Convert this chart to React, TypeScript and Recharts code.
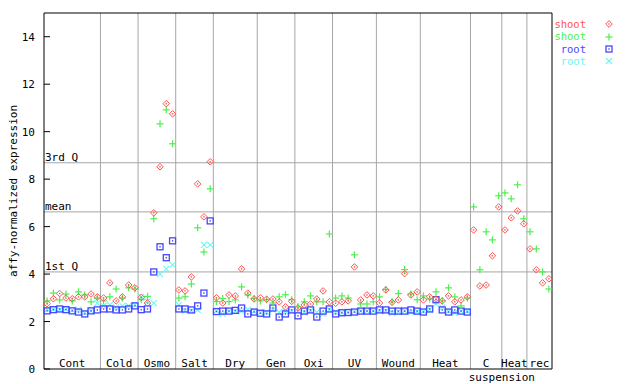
import { ScatterChart, Scatter, XAxis, YAxis, ReferenceLine } from "recharts";

const sectionNames = ["Cont", "Cold", "Osmo", "Salt", "Dry", "Gen", "Oxi", "UV", "Wound", "Heat", "C", "Heat", "rec"];
const sectionSizes = [9, 6, 6, 6, 7, 6, 6, 7, 7, 8, 5, 4, 4];
const subLabel = { at: 73, text: "suspension" };

// shoot, rep 1 (red diamonds)
const shootA = [
  2.75, 2.96, 3.18, 2.99, 2.96, 3.04, 3.04, 3.16, 3.04,
  2.99, 3.63, 2.87, 3.04, 3.54, 3.42,
  3.02, 2.78, 6.58, 8.52, 11.18, 10.75,
  3.33, 3.29, 3.88, 7.8, 6.41, 8.73,
  3.0, 2.78, 3.12, 3.08, 4.22, 3.2, 2.95,
  3.0, 2.94, 2.95, 2.83, 2.62, 2.85,
  2.57, 2.7, 2.74, 2.95, 3.29, 2.83,
  2.77, 2.83, 2.87, 4.3, 2.91, 3.12, 3.08,
  2.78, 3.33, 2.81, 2.91, 4.02, 3.12, 3.25,
  2.91, 3.04, 2.95, 2.87, 3.08, 2.83, 2.91, 3.04,
  5.86, 3.5, 3.54, 4.77, 6.83,
  5.86, 6.37, 6.66, 6.12,
  5.06, 4.18, 3.63, 3.8,
];
// shoot, rep 2 (green pluses)
const shootB = [
  2.87, 3.2, 2.91, 3.16, 2.87, 3.25, 3.12, 2.83, 2.99,
  2.87, 3.04, 3.37, 2.99, 3.42, 3.37,
  2.92, 3.06, 6.33, 10.33, 10.92, 9.49,
  2.99, 3.04, 3.58, 5.95, 4.93, 7.59,
  2.84, 2.97, 2.84, 2.91, 3.46, 3.12, 2.97,
  2.87, 2.92, 2.78, 3.04, 3.13, 2.92,
  2.62, 2.83, 3.08, 2.83, 2.83, 5.69,
  2.99, 3.08, 2.99, 4.81, 2.74, 2.74, 2.83,
  3.04, 3.35, 2.83, 3.18, 4.19, 3.16, 2.92,
  3.08, 2.95, 3.25, 2.87, 3.42, 3.04, 2.66, 2.99,
  6.83, 4.18, 5.78, 5.44, 7.3,
  7.42, 7.17, 7.76, 6.33,
  5.78, 5.06, 4.09, 3.37,
];
// root, rep 1 (blue squares)
const rootA = [
  2.45, 2.5, 2.53, 2.5, 2.45, 2.4, 2.32, 2.45, 2.49,
  2.53, 2.53, 2.49, 2.49, 2.53, 2.66,
  2.5, 2.53, 4.09, 5.15, 4.69, 5.4,
  2.53, 2.53, 2.49, 2.66, 3.2, 6.24,
  2.42, 2.44, 2.44, 2.47, 2.57, 2.32, 2.4,
  2.35, 2.32, 2.57, 2.19, 2.32, 2.49,
  2.24, 2.44, 2.49, 2.19, 2.44, 2.53,
  2.32, 2.37, 2.38, 2.4, 2.44, 2.44, 2.44,
  2.49, 2.49, 2.44, 2.44, 2.44, 2.49, 2.44,
  2.4, 2.53, 2.92, 2.49, 2.4, 2.49, 2.44, 2.4,
];
// root, rep 2 (cyan crosses)
const rootB = [
  2.5, 2.52, 2.5, 2.52, 2.48, 2.5, 2.38, 2.45, 2.78,
  2.66, 2.7, 2.6, 2.66, 2.66, 2.7,
  3.04, 2.85, 2.78, 4.0, 4.22, 4.39,
  2.7, 2.45, 2.45, 2.49, 5.23, 5.23,
  2.45, 2.32, 2.44, 2.44, 2.44, 2.5, 2.44,
  2.38, 2.4, 2.5, 2.4, 2.42, 2.44,
  2.44, 2.4, 2.45, 2.4, 2.32, 2.5,
  2.4, 2.38, 2.4, 2.42, 2.44, 2.45, 2.45,
  2.45, 2.45, 2.37, 2.42, 2.45, 2.4, 2.42,
  2.44, 2.5, 2.74, 2.6, 2.44, 2.37, 2.44, 2.44,
];

const quartiles = [
  { label: "3rd Q", value: 8.69 },
  { label: "mean", value: 6.62 },
  { label: "1st Q", value: 4.09 },
];
const yTicks = [0, 2, 4, 6, 8, 10, 12, 14];

const FONT = "'DejaVu Sans Mono', monospace";
const RED = "#ff5252";
const GREEN = "#4cf04c";
const BLUE = "#4646ff";
const CYAN = "#6cf6f6";
const GRID = "#a6a6a6";

const total = sectionSizes.reduce((a, b) => a + b, 0);
const bounds: number[] = [];
const centers: number[] = [];
let acc = 0;
sectionSizes.forEach((n, i) => {
  centers.push(acc + n / 2);
  acc += n;
  if (i < sectionSizes.length - 1) bounds.push(acc);
});

const toPoints = (vals: number[]) => vals.map((v, i) => ({ x: i + 0.5, y: v }));

const Diamond = ({ cx, cy }: any) => (
  <g>
    <path d={`M${cx},${cy - 3.3}L${cx + 3.3},${cy}L${cx},${cy + 3.3}L${cx - 3.3},${cy}Z`} fill="none" stroke={RED} strokeWidth={1} />
    <rect x={cx - 0.7} y={cy - 0.7} width={1.4} height={1.4} fill={RED} />
  </g>
);
const Plus = ({ cx, cy }: any) => (
  <g stroke={GREEN} strokeWidth={1.2}>
    <line x1={cx - 3.5} y1={cy} x2={cx + 3.5} y2={cy} />
    <line x1={cx} y1={cy - 3.5} x2={cx} y2={cy + 3.5} />
  </g>
);
const Square = ({ cx, cy }: any) => (
  <g>
    <rect x={cx - 3} y={cy - 3} width={6} height={6} fill="none" stroke={BLUE} strokeWidth={1.3} />
    <rect x={cx - 0.7} y={cy - 0.7} width={1.4} height={1.4} fill={BLUE} />
  </g>
);
const Cross = ({ cx, cy }: any) => (
  <g stroke={CYAN} strokeWidth={1.1}>
    <line x1={cx - 3} y1={cy - 3} x2={cx + 3} y2={cy + 3} />
    <line x1={cx - 3} y1={cy + 3} x2={cx + 3} y2={cy - 3} />
  </g>
);

const LeftTick = ({ x, y, payload }: any) => (
  <g>
    <line x1={x} y1={y} x2={x + 6} y2={y} stroke="#000" />
    <text x={x - 9} y={y + 4} textAnchor="end" fontFamily={FONT} fontSize={11} fill="#000">{payload.value}</text>
  </g>
);
const RightTick = ({ x, y }: any) => <line x1={x - 5} y1={y} x2={x} y2={y} stroke="#000" />;

const BottomTick = ({ x, y, payload }: any) => {
  if (payload.value === subLabel.at) {
    return <text x={x} y={y + 12} textAnchor="middle" fontFamily={FONT} fontSize={11} fill="#000">{subLabel.text}</text>;
  }
  const idx = centers.indexOf(payload.value);
  return <text x={x} y={y - 2} textAnchor="middle" fontFamily={FONT} fontSize={11} fill="#000">{sectionNames[idx]}</text>;
};

const QLabel = ({ viewBox, text }: any) => (
  <text x={viewBox.x + 1} y={viewBox.y - 2} fontFamily={FONT} fontSize={11} fill="#000">{text}</text>
);
const YLabel = ({ viewBox }: any) => {
  const x = viewBox.x + 9;
  const y = viewBox.y + viewBox.height / 2;
  return (
    <text x={x} y={y} transform={`rotate(-90, ${x}, ${y})`} textAnchor="middle" fontFamily={FONT} fontSize={11} fill="#000">
      affy-normalized expression
    </text>
  );
};

const legendItems = [
  { label: "shoot", color: RED, Shape: Diamond },
  { label: "shoot", color: GREEN, Shape: Plus },
  { label: "root", color: BLUE, Shape: Square },
  { label: "root", color: CYAN, Shape: Cross },
];

export default function App() {
  return (
    <div style={{ position: "relative", width: 632, height: 376 }}>
      <ScatterChart width={632} height={376} margin={{ top: 5, right: 80, bottom: 0, left: 0 }}>
        <XAxis
          type="number"
          dataKey="x"
          domain={[0, total]}
          ticks={[...centers, subLabel.at]}
          interval={0}
          height={15}
          tickSize={0}
          tickMargin={0}
          tickLine={false}
          axisLine={{ stroke: "#000" }}
          tick={<BottomTick />}
        />
        <YAxis
          type="number"
          dataKey="y"
          domain={[0, 15]}
          ticks={yTicks}
          width={36}
          tickSize={0}
          tickMargin={0}
          tickLine={false}
          axisLine={{ stroke: "#000" }}
          tick={<LeftTick />}
          label={<YLabel />}
        />
        <YAxis
          yAxisId="r"
          orientation="right"
          type="number"
          domain={[0, 15]}
          ticks={yTicks}
          width={8}
          tickSize={0}
          tickMargin={0}
          tickLine={false}
          axisLine={{ stroke: "#000" }}
          tick={<RightTick />}
        />
        {bounds.map((b) => (
          <ReferenceLine key={b} x={b} stroke={GRID} strokeWidth={1} />
        ))}
        {quartiles.map((q) => (
          <ReferenceLine key={q.label} y={q.value} stroke={GRID} strokeWidth={1} label={<QLabel text={q.label} />} />
        ))}
        <ReferenceLine y={15} stroke="#000" strokeWidth={1} />
        <Scatter data={toPoints(rootB)} shape={<Cross />} isAnimationActive={false} />
        <Scatter data={toPoints(rootA)} shape={<Square />} isAnimationActive={false} />
        <Scatter data={toPoints(shootB)} shape={<Plus />} isAnimationActive={false} />
        <Scatter data={toPoints(shootA)} shape={<Diamond />} isAnimationActive={false} />
      </ScatterChart>
      <div style={{ position: "absolute", left: 530, top: 10, fontFamily: FONT, fontSize: 10.5 }}>
        {legendItems.map((it, i) => (
          <div key={i} style={{ display: "flex", alignItems: "center", height: 12.4 }}>
            <span
              style={{
                display: "inline-block",
                width: 48,
                height: 12.4,
                lineHeight: "12.4px",
                textAlign: "right",
                color: it.color,
                fontSize: 10.5,
              }}
            >
              {it.label}
            </span>
            <svg width={30} height={12}>
              <it.Shape cx={23} cy={6} />
            </svg>
          </div>
        ))}
      </div>
    </div>
  );
}
